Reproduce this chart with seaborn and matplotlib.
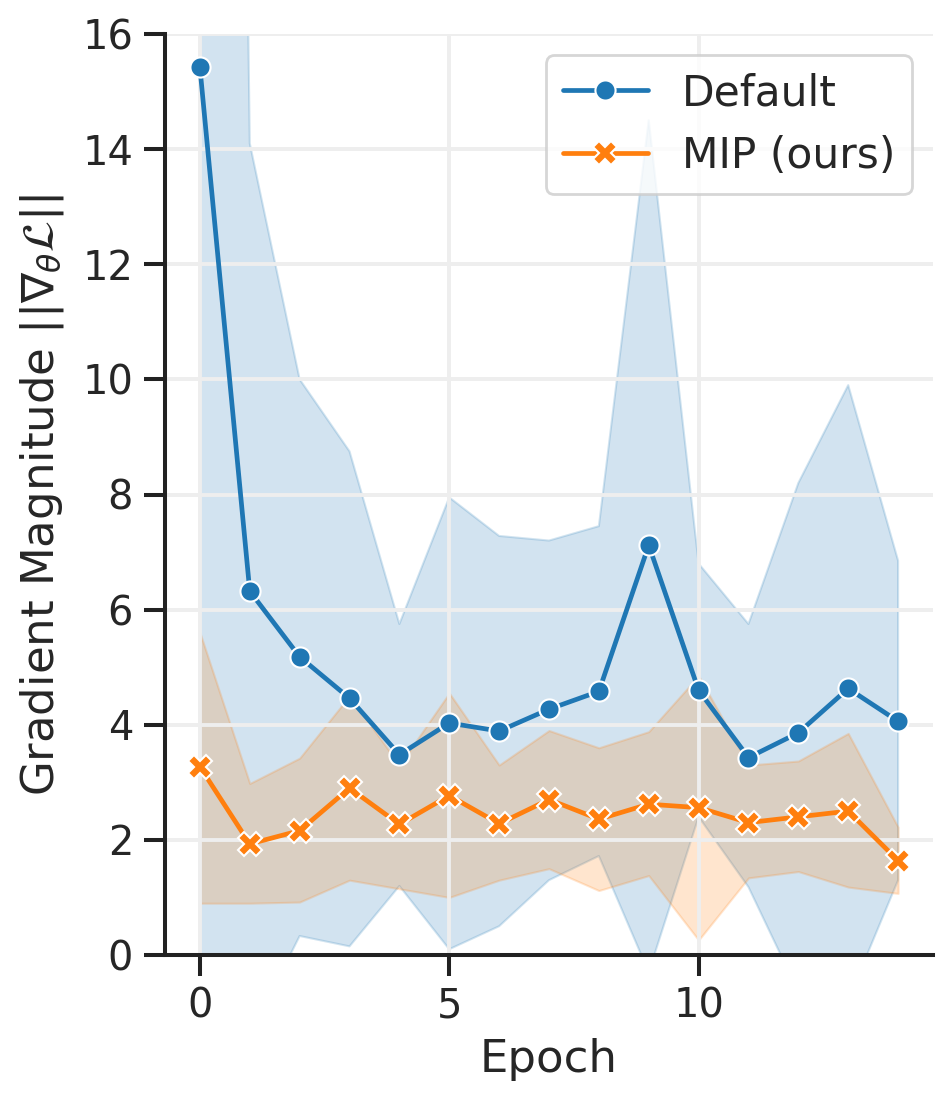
import matplotlib
matplotlib.use("Agg")
import matplotlib.pyplot as plt
from matplotlib.lines import Line2D
import seaborn as sns
import numpy as np
import pandas as pd

epochs = list(range(15))
default_mean = [15.42, 6.32, 5.18, 4.46, 3.48, 4.03, 3.89, 4.27, 4.58, 7.12, 4.60, 3.43, 3.86, 4.63, 4.06]
default_upper = [80.0, 14.1, 10.0, 8.75, 5.75, 7.95, 7.28, 7.2, 7.45, 14.5, 6.8, 5.75, 8.2, 9.9, 6.85]
default_lower = [-3.0, -1.4, 0.33, 0.15, 1.2, 0.1, 0.5, 1.3, 1.72, -0.3, 2.4, 1.18, -0.64, -0.78, 1.3]
mip_mean = [3.27, 1.93, 2.16, 2.90, 2.27, 2.77, 2.28, 2.70, 2.36, 2.62, 2.56, 2.30, 2.40, 2.50, 1.64]
mip_upper = [5.6, 2.98, 3.42, 4.5, 3.3, 4.55, 3.3, 3.9, 3.6, 3.88, 4.85, 3.3, 3.37, 3.85, 2.22]
mip_lower = [0.9, 0.9, 0.92, 1.3, 1.15, 1.0, 1.3, 1.5, 1.12, 1.38, 0.26, 1.34, 1.45, 1.18, 1.07]
labels = ["Default", "MIP (ours)"]
y_ticks = [0, 2, 4, 6, 8, 10, 12, 14, 16]
x_ticks = [0, 5, 10]

sns.set_style("ticks")
plt.rcParams['font.family'] = ['DejaVu Sans']
text_color = '#262626'
plt.rcParams['text.color'] = text_color
plt.rcParams['axes.labelcolor'] = text_color
plt.rcParams['xtick.color'] = text_color
plt.rcParams['ytick.color'] = text_color
plt.rcParams['mathtext.fontset'] = 'dejavusans'

fig = plt.figure(figsize=(9.51, 11.04), dpi=100)
ax = fig.add_axes([165/951, 1-955/1104, (933-165)/951, (955-34)/1104])

colors = sns.color_palette("tab10")[:2]
series = [(default_mean, default_lower, default_upper, 'o', 14.5),
          (mip_mean, mip_lower, mip_upper, 'X', 17)]

for (mean, lo, hi, mk, ms), lab, c in zip(series, labels, colors):
    ax.fill_between(epochs, lo, hi, color=c, alpha=0.2, linewidth=1.5)

handles = []
for (mean, lo, hi, mk, ms), lab, c in zip(series, labels, colors):
    df = pd.DataFrame({"Epoch": epochs, "val": mean})
    sns.lineplot(data=df, x="Epoch", y="val", ax=ax, color=c, marker=mk,
                 markersize=ms, markeredgecolor='white', markeredgewidth=1.5,
                 linewidth=3.4, legend=False)
    handles.append(Line2D([], [], color=c, marker=mk, markersize=ms,
                          markeredgecolor='white', markeredgewidth=1.5, linewidth=3.4))

ax.set_ylim(0, 16)
ax.set_xlim(-0.7, 14.7)
ax.set_yticks(y_ticks)
ax.set_xticks(x_ticks)
ax.grid(True, color='#eeeeee', linewidth=2.8)
ax.set_axisbelow('line')
sns.despine(ax=ax)
for s in ['left', 'bottom']:
    ax.spines[s].set_linewidth(2.9)
    ax.spines[s].set_color('#222222')
ax.tick_params(axis='both', labelsize=28.8, length=15, width=2.9, color='#222222', pad=8)
ax.set_xlabel("Epoch", fontsize=32.4, labelpad=8)
ax.set_ylabel(r"Gradient Magnitude $||\nabla_\theta\mathcal{L}||$", fontsize=32.4, labelpad=12)

leg = ax.legend(handles, labels, loc='upper right', fontsize=30.5, frameon=True, fancybox=True,
                framealpha=0.8, edgecolor='#cccccc', borderaxespad=0.5)
leg.get_frame().set_linewidth(2.0)

fig.savefig("out.png", dpi=100)
